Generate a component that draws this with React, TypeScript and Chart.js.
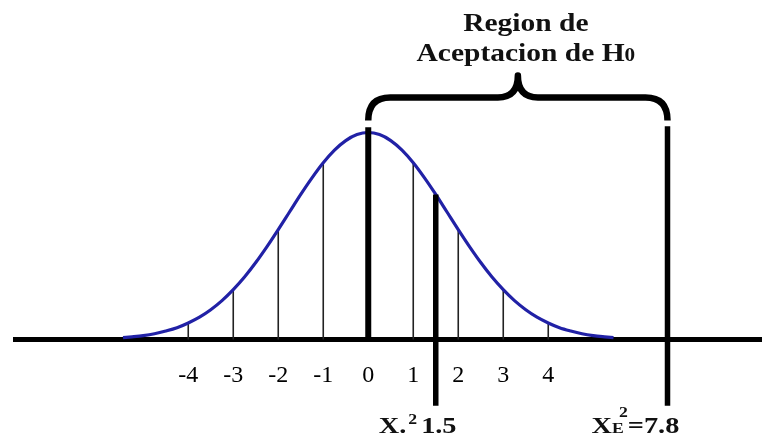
import React, { useEffect, useRef } from 'react';
import { Chart, registerables, LinearScale } from 'chart.js';

Chart.register(...registerables);

// Bell curve samples (relative height, peak = 1)
const curveX = [
  -5.45, -5.25, -5, -4.75, -4.5, -4.25, -4, -3.75, -3.5, -3.25, -3, -2.75, -2.5, -2.25, -2, -1.75, -1.5, -1.25, -1, -0.75, -0.5, -0.25,
  0,
  0.25, 0.5, 0.75, 1, 1.25, 1.5, 1.75, 2, 2.25, 2.5, 2.75, 3, 3.25, 3.5, 3.75, 4, 4.25, 4.5, 4.75, 5, 5.25, 5.45,
];
const curveY = [
  0.009, 0.013, 0.019, 0.028, 0.041, 0.057, 0.08, 0.108, 0.144, 0.188, 0.241, 0.302, 0.372, 0.449, 0.531, 0.616, 0.701, 0.781, 0.854, 0.915, 0.961, 0.99,
  1,
  0.99, 0.961, 0.915, 0.854, 0.781, 0.701, 0.616, 0.531, 0.449, 0.372, 0.302, 0.241, 0.188, 0.144, 0.108, 0.08, 0.057, 0.041, 0.028, 0.019, 0.013, 0.009,
];

// Thin reference lines under the curve
const gridLineX = [-4, -3, -2, -1, 1, 2, 3, 4];

// Axis tick labels
const tickValues = [-4, -3, -2, -1, 0, 1, 2, 3, 4];

// Marked values
const meanValue = 0;
const meanLineTop = 1.025;
const statValue = 1.5;
const statLineTop = 0.701;
const criticalValue = 7.8;
const criticalLineTop = 1.03;
const markerBottom = -0.32;

// Brace over the acceptance region (y levels)
const braceEndY = 1.058;
const braceBarY = 1.169;
const braceTipY = 1.275;

const titleLines = ['Region de', 'Aceptacion de H'];
const titleSub = '0';
const titleBaselines = [1.488, 1.343];

const statLabel = { main: 'X.', sup: '2', value: '1.5' };
const criticalLabel = { main: 'X', sub: 'E', sup: '2', value: '=7.8' };
const labelBaseline = -0.45;

// Axis extents
const X_MIN = -7.85;
const X_MAX = 12;
const Y_MIN = -0.49;
const Y_MAX = 1.64;

// The axis is compressed beyond this value (schematic break)
const AXIS_BREAK = 5.5;
const BREAK_FACTOR = 0.5;

const SERIF = "'Liberation Serif', 'Times New Roman', serif";
const CURVE_COLOR = '#2121a6';

class BrokenLinearScale extends LinearScale {
  static id = 'brokenLinear';
  static defaults = LinearScale.defaults;

  warp(v: number) {
    return v <= AXIS_BREAK ? v : AXIS_BREAK + (v - AXIS_BREAK) * BREAK_FACTOR;
  }

  unwarp(w: number) {
    return w <= AXIS_BREAK ? w : AXIS_BREAK + (w - AXIS_BREAK) / BREAK_FACTOR;
  }

  getPixelForValue(value: number) {
    if (value === null || value === undefined || isNaN(value)) return NaN;
    const a = this.warp(this.min);
    const b = this.warp(this.max);
    return this.getPixelForDecimal((this.warp(value) - a) / (b - a));
  }

  getValueForPixel(pixel: number) {
    const a = this.warp(this.min);
    const b = this.warp(this.max);
    return this.unwarp(a + this.getDecimalForPixel(pixel) * (b - a));
  }
}
Chart.register(BrokenLinearScale);

function heightAt(x: number) {
  const i = curveX.indexOf(x);
  return i >= 0 ? curveY[i] : 0;
}

function vline(x: number, y0: number, y1: number, width: number, color: string, order: number) {
  return {
    data: [{ x, y: y0 }, { x, y: y1 }],
    borderColor: color,
    borderWidth: width,
    borderCapStyle: 'butt',
    pointRadius: 0,
    order,
  };
}

// Draws text stretched horizontally, left aligned at x
const STRETCH = 1.18;
function textWidth(ctx: CanvasRenderingContext2D, text: string, font: string) {
  ctx.font = font;
  return ctx.measureText(text).width * STRETCH;
}
function drawText(ctx: CanvasRenderingContext2D, text: string, x: number, y: number, font: string) {
  ctx.save();
  ctx.font = font;
  ctx.textAlign = 'left';
  ctx.textBaseline = 'alphabetic';
  ctx.translate(x, y);
  ctx.scale(STRETCH, 1);
  ctx.fillText(text, 0, 0);
  ctx.restore();
}

const annotationPlugin = {
  id: 'regionAnnotations',
  afterDatasetsDraw(chart: any) {
    const { ctx, scales } = chart;
    const xs = scales.x;
    const ys = scales.y;
    const xL = xs.getPixelForValue(meanValue);
    const xR = xs.getPixelForValue(criticalValue);
    const xm = (xL + xR) / 2;
    const yEnd = ys.getPixelForValue(braceEndY);
    const yBar = ys.getPixelForValue(braceBarY);
    const yTip = ys.getPixelForValue(braceTipY);
    const r = 22;
    const tipHalf = 20;

    // Brace
    ctx.save();
    ctx.strokeStyle = '#000';
    ctx.lineWidth = 6.5;
    ctx.lineJoin = 'round';
    ctx.lineCap = 'butt';
    ctx.beginPath();
    ctx.moveTo(xL, yEnd);
    ctx.quadraticCurveTo(xL, yBar, xL + r, yBar);
    ctx.lineTo(xm - tipHalf, yBar);
    ctx.quadraticCurveTo(xm, yBar, xm, yTip);
    ctx.quadraticCurveTo(xm, yBar, xm + tipHalf, yBar);
    ctx.lineTo(xR - r, yBar);
    ctx.quadraticCurveTo(xR, yBar, xR, yEnd);
    ctx.stroke();
    ctx.restore();

    ctx.save();
    ctx.fillStyle = '#111';

    // Title over the brace
    const titleFont = `bold 25px ${SERIF}`;
    const subFont = `bold 18px ${SERIF}`;
    const cx = xm + 8;
    const w1 = textWidth(ctx, titleLines[0], titleFont);
    drawText(ctx, titleLines[0], cx - w1 / 2, ys.getPixelForValue(titleBaselines[0]), titleFont);
    const w2a = textWidth(ctx, titleLines[1], titleFont);
    const w2b = textWidth(ctx, titleSub, subFont);
    const x2 = cx - (w2a + w2b) / 2;
    const b2 = ys.getPixelForValue(titleBaselines[1]);
    drawText(ctx, titleLines[1], x2, b2, titleFont);
    drawText(ctx, titleSub, x2 + w2a, b2, subFont);

    // Labels under the marked values
    const mainFont = `bold 24px ${SERIF}`;
    const smallFont = `bold 15px ${SERIF}`;
    const base = ys.getPixelForValue(labelBaseline);

    let x = xs.getPixelForValue(statValue) - 57;
    drawText(ctx, statLabel.main, x, base, mainFont);
    x += textWidth(ctx, statLabel.main, mainFont) + 2;
    drawText(ctx, statLabel.sup, x, base - 9, smallFont);
    x += textWidth(ctx, statLabel.sup, smallFont) + 4;
    drawText(ctx, statLabel.value, x, base, mainFont);

    x = xs.getPixelForValue(criticalValue) - 76;
    drawText(ctx, criticalLabel.main, x, base, mainFont);
    x += textWidth(ctx, criticalLabel.main, mainFont);
    drawText(ctx, criticalLabel.sub, x, base, smallFont);
    drawText(ctx, criticalLabel.sup, x + 7, base - 16, smallFont);
    x += textWidth(ctx, criticalLabel.sub, smallFont) + 4;
    drawText(ctx, criticalLabel.value, x, base, mainFont);
    ctx.restore();
  },
};

export default function App() {
  const canvasRef = useRef<HTMLCanvasElement>(null);

  useEffect(() => {
    const canvas = canvasRef.current;
    if (!canvas) return;

    const datasets: any[] = [
      vline(meanValue, 0, meanLineTop, 6, '#000', 0),
      vline(statValue, markerBottom, statLineTop, 5.5, '#000', 0),
      vline(criticalValue, markerBottom, criticalLineTop, 5.5, '#000', 0),
      {
        data: curveX.map((x, i) => ({ x, y: curveY[i] })),
        borderColor: CURVE_COLOR,
        borderWidth: 3.2,
        pointRadius: 0,
        cubicInterpolationMode: 'monotone',
        order: 1,
      },
      ...gridLineX.map((x) => vline(x, 0, heightAt(x), 1.6, '#222', 2)),
    ];

    const chart = new Chart(canvas, {
      type: 'line',
      data: { datasets },
      options: {
        animation: false,
        responsive: false,
        events: [],
        layout: { padding: { left: 15, right: 0, top: 0, bottom: 0 } },
        plugins: {
          legend: { display: false },
          tooltip: { enabled: false },
        },
        scales: {
          x: {
            type: 'brokenLinear',
            min: X_MIN,
            max: X_MAX,
            position: { y: 0 },
            afterBuildTicks: (scale: any) => {
              scale.ticks = tickValues.map((v) => ({ value: v }));
            },
            grid: { display: false, drawTicks: false },
            border: { display: true, width: 5, color: '#000' },
            ticks: {
              autoSkip: false,
              maxRotation: 0,
              padding: 22,
              color: '#000',
              font: { family: SERIF, size: 24 },
              callback: (v: any) => String(v),
            },
          },
          y: {
            type: 'linear',
            min: Y_MIN,
            max: Y_MAX,
            display: false,
          },
        },
      } as any,
      plugins: [annotationPlugin],
    });

    return () => chart.destroy();
  }, []);

  return (
    <div style={{ position: 'fixed', left: 0, top: 0, width: 762, height: 441, background: '#fff' }}>
      <canvas ref={canvasRef} width={762} height={441} style={{ display: 'block' }} />
    </div>
  );
}
